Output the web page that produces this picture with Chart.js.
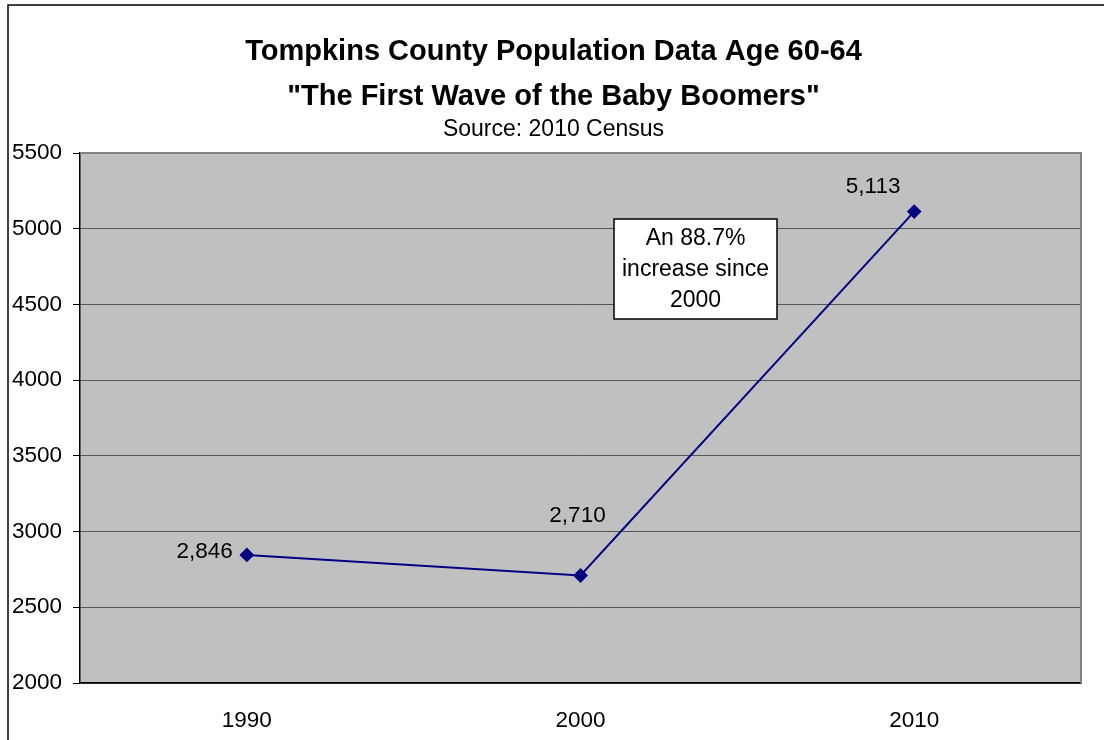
<!DOCTYPE html>
<html>
<head>
<meta charset="utf-8">
<script src="https://cdn.jsdelivr.net/npm/chart.js@4/dist/chart.umd.min.js"></script>
<style>
  html, body { margin: 0; padding: 0; background: #fff; }
  #wrap { width: 1104px; height: 740px; }
</style>
</head>
<body>
<div id="wrap"><canvas id="c" width="1104" height="740"></canvas></div>
<script>
// chart data
const years = ['1990', '2000', '2010'];
const population = [2846, 2710, 5113];
const pointLabels = ['2,846', '2,710', '5,113'];
const titleLines = ['Tompkins County Population Data Age 60-64', '"The First Wave of the Baby Boomers"'];
const subtitleText = 'Source: 2010 Census';
const noteLines = ['An 88.7%', 'increase since', '2000'];

const FONT = '"Liberation Sans", Arial, sans-serif';

// label offsets relative to each point (dx, dy, align)
const labelPos = [
    { dx: -14, dy: -3, align: 'right' },
    { dx: -3, dy: -60, align: 'center' },
    { dx: -41, dy: -25, align: 'center' },
];

const plotBackground = {
    id: 'plotBackground',
    beforeDraw: (chart) => {
        const { ctx, chartArea: a } = chart;
        ctx.save();
        // outer frame of the chart object
        ctx.strokeStyle = '#000';
        ctx.lineWidth = 1.5;
        ctx.strokeRect(8, 5, 1200, 900);
        ctx.fillStyle = '#C0C0C0';
        ctx.fillRect(a.left, a.top, a.right - a.left, a.bottom - a.top);

        // titles
        const cx = 553.5;
        ctx.fillStyle = '#000';
        ctx.textAlign = 'center';
        ctx.textBaseline = 'middle';
        ctx.font = `bold 29px ${FONT}`;
        titleLines.forEach((t, i) => ctx.fillText(t, cx, 52 + i * 45));
        ctx.font = `23px ${FONT}`;
        ctx.fillText(subtitleText, cx, 130);
        ctx.restore();
    },
    afterDatasetsDraw: (chart) => {
        const { ctx, chartArea: a } = chart;
        ctx.save();
        ctx.strokeStyle = '#808080';
        ctx.lineWidth = 2;
        ctx.beginPath();
        ctx.moveTo(a.left, a.top);
        ctx.lineTo(a.right, a.top);
        ctx.lineTo(a.right, a.bottom);
        ctx.stroke();
        ctx.restore();
    }
};

const valueLabels = {
    id: 'valueLabels',
    afterDatasetsDraw: (chart) => {
        const { ctx } = chart;
        const meta = chart.getDatasetMeta(0);
        ctx.save();
        ctx.font = `22.5px ${FONT}`;
        ctx.fillStyle = '#000';
        ctx.textBaseline = 'middle';
        meta.data.forEach((pt, i) => {
            const p = labelPos[i];
            ctx.textAlign = p.align;
            ctx.fillText(pointLabels[i], pt.x + p.dx, pt.y + p.dy);
        });
        ctx.restore();
    }
};

const noteBox = {
    id: 'noteBox',
    afterDraw: (chart) => {
        const { ctx, chartArea: a } = chart;
        const x = a.left + 534, y = a.top + 66, w = 163, h = 100;
        ctx.save();
        ctx.fillStyle = '#fff';
        ctx.fillRect(x, y, w, h);
        ctx.strokeStyle = '#000';
        ctx.lineWidth = 1.5;
        ctx.strokeRect(x, y, w, h);
        ctx.font = `23px ${FONT}`;
        ctx.fillStyle = '#000';
        ctx.textAlign = 'center';
        ctx.textBaseline = 'middle';
        noteLines.forEach((line, i) => {
            ctx.fillText(line, x + w / 2, y + 20 + i * 31);
        });
        ctx.restore();
    }
};

new Chart(document.getElementById('c'), {
    type: 'line',
    data: {
        labels: years,
        datasets: [{
            data: population,
            borderColor: '#000080',
            backgroundColor: '#000080',
            borderWidth: 2,
            pointStyle: 'rectRot',
            pointRadius: 6,
            pointHoverRadius: 6,
            tension: 0,
        }]
    },
    options: {
        responsive: false,
        animation: false,
        events: [],
        layout: { padding: { left: 0, right: 23, top: 153, bottom: 0 } },
        plugins: {
            legend: { display: false },
            tooltip: { enabled: false },
            title: { display: false },
        },
        scales: {
            x: {
                offset: true,
                grid: { display: false, drawTicks: false },
                border: { display: true, color: '#000', width: 1.5 },
                ticks: { color: '#000', font: { family: FONT, size: 22.5 }, padding: 24 },
                afterFit: (axis) => { axis.height = 57; },
            },
            y: {
                min: 2000,
                max: 5500,
                ticks: {
                    stepSize: 500, color: '#000', font: { family: FONT, size: 22.5 }, padding: 11,
                    callback: (v) => String(v),
                },
                grid: { color: '#555', lineWidth: 1, tickLength: 7, tickColor: '#000' },
                border: { display: true, color: '#000', width: 1.5 },
                afterFit: (axis) => { axis.width = 80; },
            }
        }
    },
    plugins: [plotBackground, valueLabels, noteBox],
});
</script>
</body>
</html>
